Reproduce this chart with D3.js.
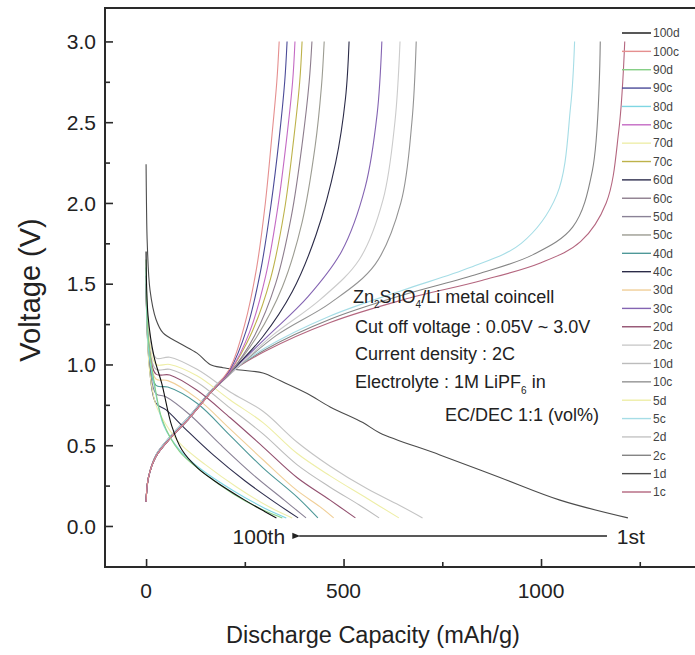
<!DOCTYPE html>
<html>
<head>
<meta charset="utf-8">
<script src="https://cdn.jsdelivr.net/npm/d3@7"></script>
<style>
  html, body { margin: 0; padding: 0; background: #fff; }
  svg { display: block; }
  svg text { font-family: Arial, "Liberation Sans", Helvetica, sans-serif; }
</style>
</head>
<body>
<svg id="chart" width="695" height="655"></svg>
<script>
// Galvanostatic profiles of a Zn2SnO4 / Li coin cell: [capacity mAh/g, voltage V]
const d1   = [[0,2.24],[1,2.0],[3,1.75],[10,1.46],[25,1.28],[43,1.195],[86,1.13],[129,1.07],[162,1.0],[195,0.98],[238,0.966],[296,0.947],[339,0.9],[408,0.82],[466,0.737],[549,0.64],[592,0.576],[744,0.44],[896,0.3],[1048,0.16],[1220,0.05]];
const d2   = [[0,1.55],[8,1.2],[25,1.04],[60,1.045],[129,0.97],[213,0.83],[296,0.71],[382,0.52],[466,0.37],[560,0.23],[640,0.13],[700,0.05]];
const d5   = [[0,1.5],[8,1.15],[25,1.0],[60,1.0],[129,0.93],[213,0.78],[296,0.64],[382,0.45],[466,0.31],[560,0.17],[640,0.05]];
const d10  = [[0,1.5],[8,1.12],[25,0.97],[60,0.97],[129,0.89],[213,0.73],[296,0.57],[382,0.38],[466,0.24],[540,0.13],[590,0.05]];
const d20  = [[0,1.5],[8,1.1],[25,0.94],[60,0.935],[129,0.84],[213,0.67],[296,0.49],[382,0.3],[466,0.16],[530,0.05]];
const d30  = [[0,1.5],[8,1.08],[25,0.91],[55,0.9],[129,0.79],[213,0.6],[296,0.41],[382,0.22],[440,0.12],[475,0.05]];
const d40  = [[0,1.5],[8,1.05],[25,0.87],[55,0.86],[129,0.76],[213,0.56],[296,0.36],[382,0.18],[435,0.05]];
const d50  = [[0,1.5],[8,1.02],[25,0.82],[50,0.8],[110,0.69],[190,0.5],[270,0.32],[350,0.16],[405,0.05]];
const d60  = [[0,1.55],[8,1.0],[25,0.76],[50,0.72],[100,0.6],[170,0.44],[250,0.28],[330,0.14],[385,0.05]];
const d70  = [[0,1.6],[8,0.98],[25,0.75],[50,0.63],[90,0.5],[150,0.38],[230,0.24],[310,0.12],[370,0.05]];
const d80  = [[0,1.6],[6,1.1],[20,0.88],[45,0.62],[85,0.47],[140,0.35],[220,0.22],[300,0.11],[355,0.05]];
const d90  = [[0,1.65],[6,1.15],[20,0.9],[42,0.65],[85,0.46],[140,0.34],[220,0.2],[295,0.1],[345,0.05]];
const d100 = [[0,1.7],[5,1.3],[20,1.05],[40,0.88],[65,0.62],[91,0.47],[130,0.36],[170,0.285],[250,0.16],[300,0.09],[330,0.05]];

const c1   = [[0,0.15],[6,0.3],[25,0.44],[60,0.55],[110,0.68],[165,0.84],[213,0.95],[300,1.08],[466,1.26],[650,1.4],[850,1.52],[1000,1.63],[1100,1.76],[1165,2.0],[1197,2.45],[1212,3.0]];
const c2   = [[0,0.15],[6,0.3],[25,0.44],[60,0.55],[110,0.68],[165,0.84],[213,0.95],[300,1.09],[466,1.28],[650,1.43],[840,1.56],[980,1.68],[1080,1.85],[1130,2.2],[1150,3.0]];
const c5   = [[0,0.15],[6,0.3],[25,0.44],[60,0.55],[110,0.68],[165,0.84],[213,0.95],[300,1.1],[466,1.3],[650,1.46],[820,1.6],[950,1.75],[1040,2.05],[1075,2.6],[1085,3.0]];
const c10  = [[0,0.15],[6,0.3],[25,0.43],[60,0.54],[110,0.67],[165,0.83],[213,0.94],[330,1.18],[466,1.38],[580,1.62],[645,2.0],[673,2.5],[684,3.0]];
const c20  = [[0,0.15],[6,0.3],[25,0.43],[60,0.54],[110,0.67],[165,0.83],[213,0.94],[320,1.18],[440,1.4],[540,1.65],[600,2.02],[630,2.5],[643,3.0]];
const c30  = [[0,0.15],[6,0.3],[25,0.43],[60,0.54],[110,0.67],[165,0.83],[213,0.95],[310,1.18],[410,1.42],[495,1.7],[555,2.1],[585,2.55],[597,3.0]];
const c40  = [[0,0.15],[6,0.3],[25,0.43],[60,0.54],[110,0.67],[165,0.83],[213,0.95],[295,1.17],[370,1.45],[430,1.8],[480,2.25],[505,2.65],[514,3.0]];
const c50  = [[0,0.15],[6,0.3],[25,0.43],[60,0.54],[110,0.67],[165,0.83],[213,0.95],[280,1.17],[345,1.48],[395,1.88],[428,2.35],[444,2.72],[451,3.0]];
const c60  = [[0,0.15],[6,0.3],[25,0.43],[60,0.54],[110,0.67],[165,0.83],[213,0.95],[275,1.18],[328,1.5],[368,1.92],[396,2.38],[413,2.75],[420,3.0]];
const c70  = [[0,0.15],[6,0.3],[25,0.43],[60,0.54],[110,0.67],[165,0.83],[213,0.96],[268,1.2],[315,1.53],[350,1.95],[374,2.4],[389,2.75],[395,3.0]];
const c80  = [[0,0.15],[6,0.3],[25,0.43],[60,0.54],[110,0.67],[165,0.83],[213,0.96],[262,1.2],[303,1.55],[334,1.98],[356,2.4],[371,2.75],[377,3.0]];
const c90  = [[0,0.15],[6,0.3],[25,0.43],[60,0.54],[110,0.67],[165,0.83],[213,0.97],[255,1.22],[290,1.58],[317,2.0],[337,2.4],[351,2.75],[357,3.0]];
const c100 = [[0,0.15],[6,0.3],[25,0.43],[60,0.54],[110,0.67],[165,0.83],[213,0.98],[250,1.25],[280,1.6],[302,2.0],[318,2.4],[331,2.75],[337,3.0]];

// Legend order (top to bottom) and matching line colours
const seriesLabels = ["100d","100c","90d","90c","80d","80c","70d","70c","60d","60c","50d","50c","40d","40c","30d","30c","20d","20c","10d","10c","5d","5c","2d","2c","1d","1c"];
const seriesData   = [d100,c100,d90,c90,d80,c80,d70,c70,d60,c60,d50,c50,d40,c40,d30,c30,d20,c20,d10,c10,d5,c5,d2,c2,d1,c1];
const seriesColors = ["#111111","#e58f8f","#86cf86","#4b4b98","#7fd6e3","#c46ac4","#eeeeaa","#bdb24a","#2e2e4e","#8d7d8d","#8a8296","#9c9c92","#4e9898","#2b2b48","#f0cf98","#8464b2","#93506f","#cbcbcb","#bcbcbc","#939393","#eeeea6","#a6dde6","#c4c4c4","#858585","#4c4c4c","#b4667f"];

const xTicksMajor = [0, 500, 1000];
const yTicksMajor = [0.0, 0.5, 1.0, 1.5, 2.0, 2.5, 3.0];

const svg = d3.select("#chart");
const x = d3.scaleLinear().domain([-104, 1400]).range([105, 699]);
const y = d3.scaleLinear().domain([-0.254, 3.207]).range([567, 8]);

const plot = svg.append("g");

// curves: draw in reverse legend order so 100th cycle sits on top
const line = d3.line().x(d => x(d[0])).y(d => y(d[1])).curve(d3.curveCatmullRom.alpha(0.5));
const order = d3.range(seriesData.length).reverse();
plot.selectAll("path.curve").data(order).join("path")
  .attr("class", "curve")
  .attr("fill", "none")
  .attr("stroke", i => seriesColors[i])
  .attr("stroke-width", 1.1)
  .attr("d", i => line(seriesData[i]));

// frame
const axisColor = "#2a2a2a";
svg.append("path")
  .attr("d", `M${x(1400)},${y(3.207)} H${x(-104)} V${y(-0.254)} H${x(1400)}`)
  .attr("fill", "none").attr("stroke", axisColor).attr("stroke-width", 2);

// y axis: ticks pointing inward
const yAxis = d3.axisRight(y).tickValues(d3.range(0, 3.01, 0.25)).tickSize(0).tickFormat("");
const gy = svg.append("g").attr("transform", `translate(${x(-104)},0)`).call(yAxis);
gy.select(".domain").remove();
gy.selectAll(".tick line").attr("x2", d => (Math.abs(d * 2 - Math.round(d * 2)) < 1e-6 ? 8 : 5))
  .attr("stroke", axisColor).attr("stroke-width", 1.6);
svg.append("g").selectAll("text").data(yTicksMajor).join("text")
  .attr("x", 96).attr("y", d => y(d)).attr("dy", "0.36em")
  .attr("text-anchor", "end").attr("font-size", 21).attr("fill", "#222")
  .text(d => d3.format(".1f")(d));

// x axis: ticks pointing inward
const xAxis = d3.axisTop(x).tickValues(d3.range(0, 1400, 250)).tickSize(0).tickFormat("");
const gx = svg.append("g").attr("transform", `translate(0,${y(-0.254)})`).call(xAxis);
gx.select(".domain").remove();
gx.selectAll(".tick line").attr("y2", d => (d % 500 === 0 ? -8 : -5))
  .attr("stroke", axisColor).attr("stroke-width", 1.6);
svg.append("g").selectAll("text").data(xTicksMajor).join("text")
  .attr("x", d => x(d)).attr("y", 598)
  .attr("text-anchor", "middle").attr("font-size", 21).attr("fill", "#222")
  .text(d => d);

// axis titles
svg.append("text").attr("x", 373).attr("y", 643).attr("text-anchor", "middle")
  .attr("font-size", 23.5).attr("fill", "#222").text("Discharge Capacity (mAh/g)");
svg.append("text").attr("transform", "translate(40,290) rotate(-90)").attr("text-anchor", "middle")
  .attr("font-size", 29).attr("fill", "#222").text("Voltage (V)");

// legend
const legend = svg.append("g");
const legY = i => 33 + i * 18.36;
legend.selectAll("line").data(seriesLabels).join("line")
  .attr("x1", 622).attr("x2", 651).attr("y1", (d, i) => legY(i)).attr("y2", (d, i) => legY(i))
  .attr("stroke", (d, i) => seriesColors[i]).attr("stroke-width", 1.4);
legend.selectAll("text").data(seriesLabels).join("text")
  .attr("x", 653).attr("y", (d, i) => legY(i)).attr("dy", "0.36em")
  .attr("font-size", 12).attr("fill", "#444").text(d => d);

// cell description
const note = svg.append("g").attr("font-size", 18).attr("fill", "#222");
const t1 = note.append("text").attr("x", 353).attr("y", 303);
t1.append("tspan").text("Zn");
t1.append("tspan").attr("font-size", 10).attr("dy", 5).text("2");
t1.append("tspan").attr("dy", -5).text("SnO");
t1.append("tspan").attr("font-size", 10).attr("dy", 5).text("4");
t1.append("tspan").attr("dy", -5).text("/Li metal coincell");
note.append("text").attr("x", 355).attr("y", 333).text("Cut off voltage : 0.05V ~ 3.0V");
note.append("text").attr("x", 355).attr("y", 360).text("Current density : 2C");
const t4 = note.append("text").attr("x", 355).attr("y", 388);
t4.append("tspan").text("Electrolyte : 1M LiPF");
t4.append("tspan").attr("font-size", 10).attr("dy", 6).text("6");
t4.append("tspan").attr("dy", -6).text(" in");
note.append("text").attr("x", 445).attr("y", 421).text("EC/DEC 1:1 (vol%)");

// cycle arrow: from 1st toward 100th
const arrowY = y(-0.062);
svg.append("defs").append("marker").attr("id", "head")
  .attr("viewBox", "0 0 10 10").attr("refX", 1).attr("refY", 5)
  .attr("markerWidth", 12).attr("markerHeight", 6).attr("orient", "auto-start-reverse")
  .append("path").attr("d", "M0,5 L10,1 L10,9 Z").attr("fill", "#222");
svg.append("line").attr("x1", x(1167)).attr("x2", x(388)).attr("y1", arrowY).attr("y2", arrowY)
  .attr("stroke", "#222").attr("stroke-width", 1.3).attr("marker-end", "url(#head)");
svg.append("text").attr("x", x(352)).attr("y", arrowY).attr("dy", "0.36em").attr("text-anchor", "end")
  .attr("font-size", 21).attr("fill", "#222").text("100th");
svg.append("text").attr("x", x(1192)).attr("y", arrowY).attr("dy", "0.36em")
  .attr("font-size", 21).attr("fill", "#222").text("1st");
</script>
</body>
</html>
